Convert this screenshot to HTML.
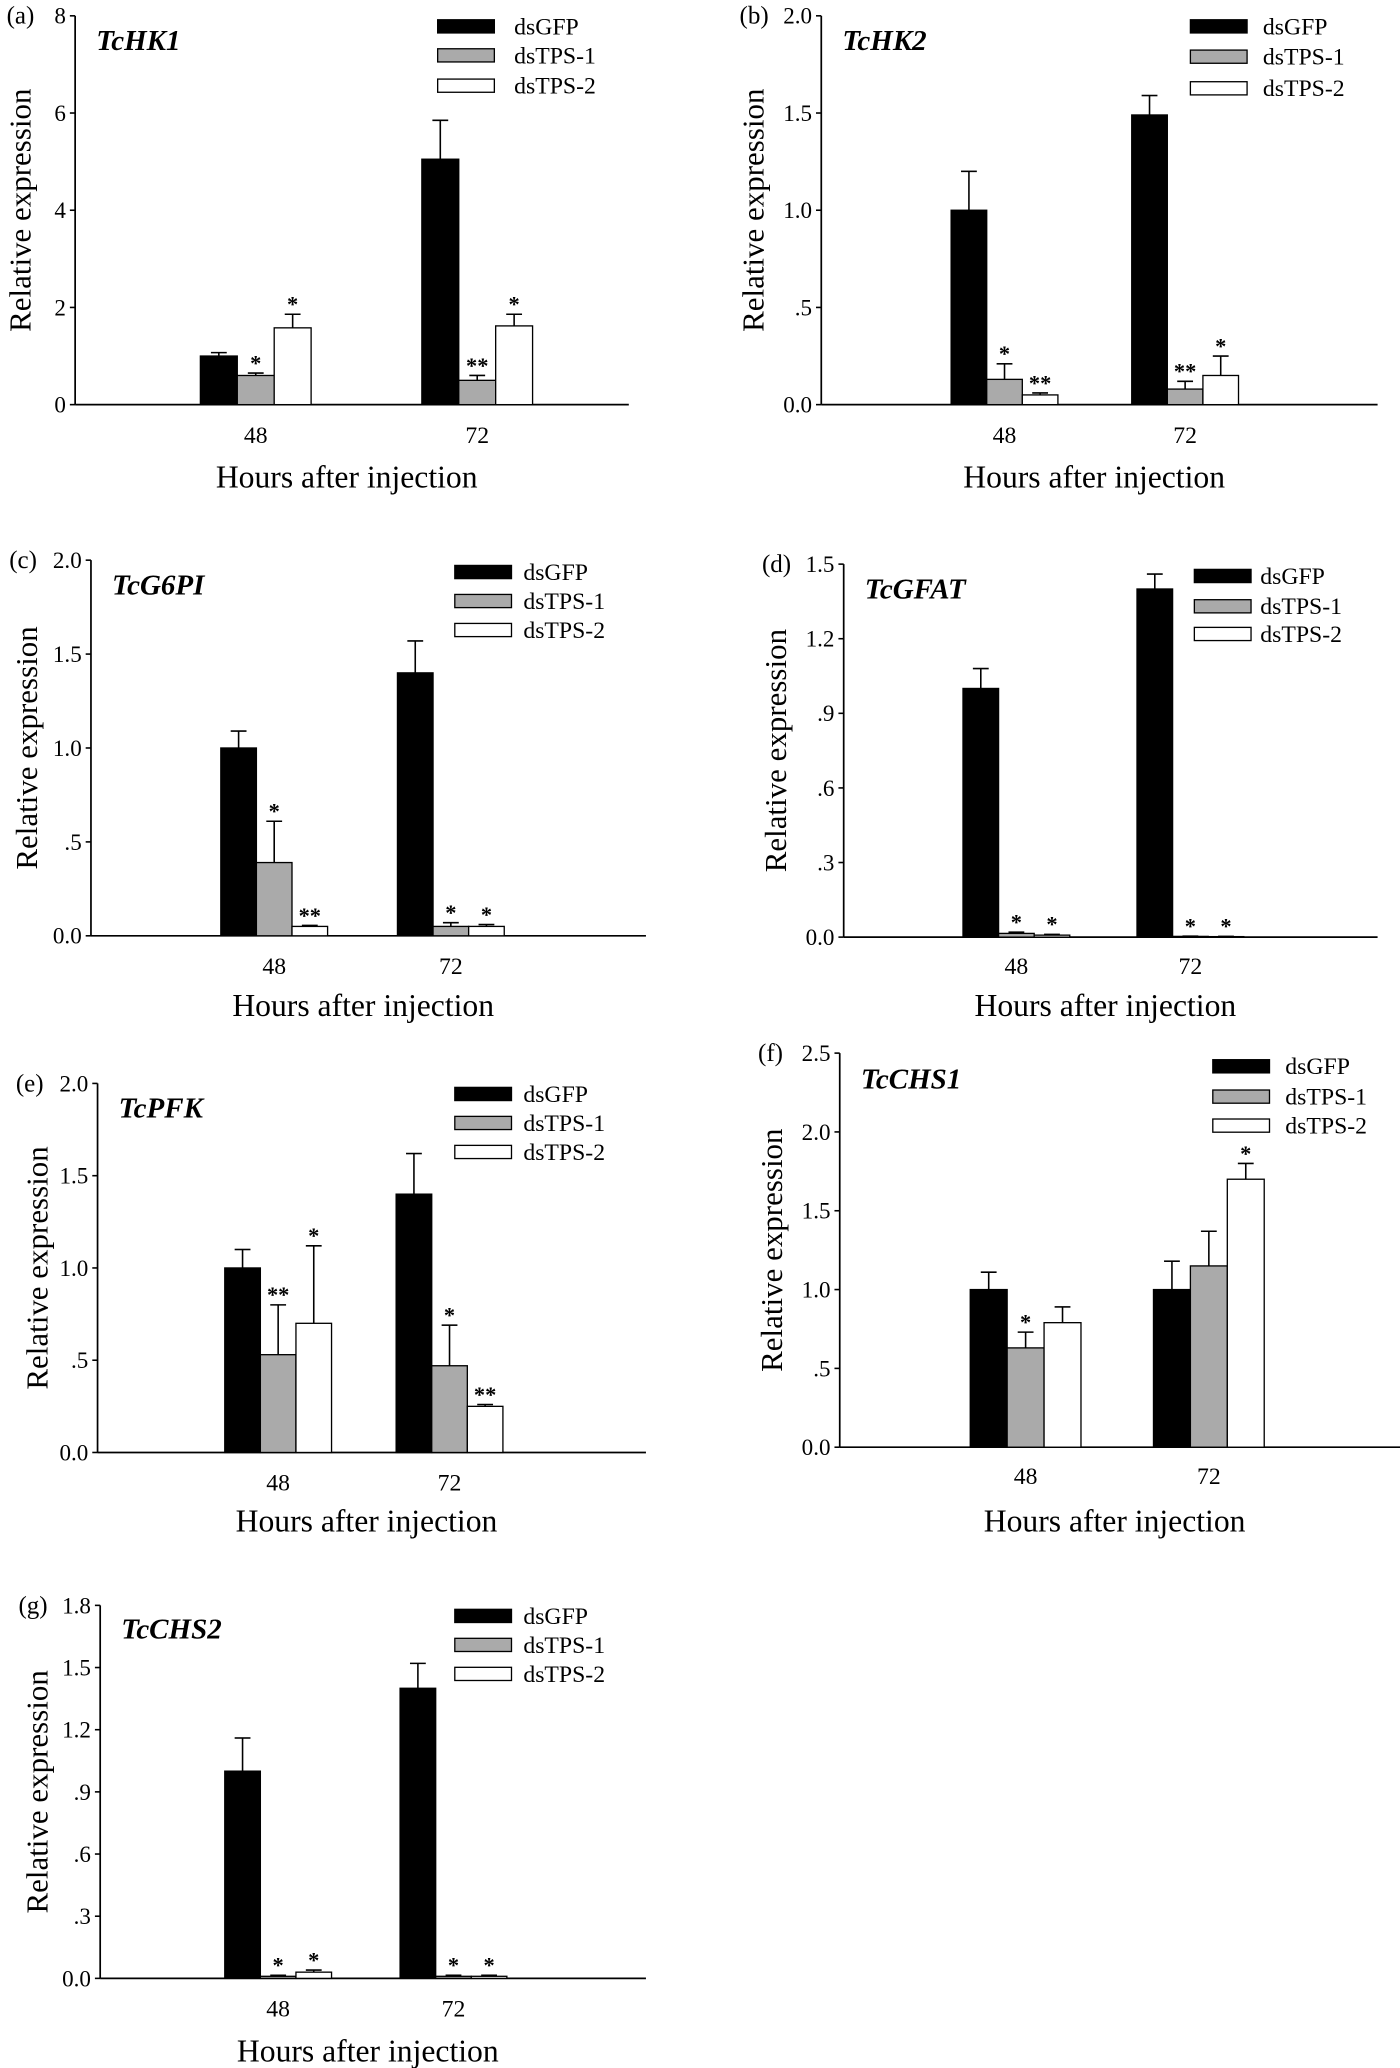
<!DOCTYPE html>
<html><head><meta charset="utf-8"><style>
html,body{margin:0;padding:0;background:#fff;}
svg{display:block;font-family:"Liberation Serif",serif;}
</style></head><body>
<svg id="fig" width="1400" height="2068" viewBox="0 0 1062 1569" preserveAspectRatio="none" xmlns="http://www.w3.org/2000/svg"></svg>
<script>
// ---- data ----
const groups = ["48", "72"];
const seriesNames = ["dsGFP", "dsTPS-1", "dsTPS-2"];
const seriesFills = ["#000", "#aaa", "#fff"];

const hk1_gfp = [1.0, 5.05], hk1_gfpErr = [0.07, 0.8];
const hk1_t1 = [0.6, 0.5], hk1_t1Err = [0.05, 0.1];
const hk1_t2 = [1.58, 1.62], hk1_t2Err = [0.28, 0.24];
const hk1_stars = [["", ""], ["*", "**"], ["*", "*"]];
const hk1_ticks = ["0", "2", "4", "6", "8"];

const hk2_gfp = [1.0, 1.49], hk2_gfpErr = [0.2, 0.1];
const hk2_t1 = [0.13, 0.08], hk2_t1Err = [0.08, 0.04];
const hk2_t2 = [0.05, 0.15], hk2_t2Err = [0.01, 0.1];
const hk2_stars = [["", ""], ["*", "**"], ["**", "*"]];
const hk2_ticks = ["0.0", ".5", "1.0", "1.5", "2.0"];

const g6pi_gfp = [1.0, 1.4], g6pi_gfpErr = [0.09, 0.17];
const g6pi_t1 = [0.39, 0.05], g6pi_t1Err = [0.22, 0.02];
const g6pi_t2 = [0.05, 0.05], g6pi_t2Err = [0.005, 0.01];
const g6pi_stars = [["", ""], ["*", "*"], ["**", "*"]];
const g6pi_ticks = ["0.0", ".5", "1.0", "1.5", "2.0"];

const gfat_gfp = [1.0, 1.4], gfat_gfpErr = [0.08, 0.06];
const gfat_t1 = [0.015, 0.003], gfat_t1Err = [0.005, 0.001];
const gfat_t2 = [0.008, 0.002], gfat_t2Err = [0.003, 0.001];
const gfat_stars = [["", ""], ["*", "*"], ["*", "*"]];
const gfat_ticks = ["0.0", ".3", ".6", ".9", "1.2", "1.5"];

const pfk_gfp = [1.0, 1.4], pfk_gfpErr = [0.1, 0.22];
const pfk_t1 = [0.53, 0.47], pfk_t1Err = [0.27, 0.22];
const pfk_t2 = [0.7, 0.25], pfk_t2Err = [0.42, 0.01];
const pfk_stars = [["", ""], ["**", "*"], ["*", "**"]];
const pfk_ticks = ["0.0", ".5", "1.0", "1.5", "2.0"];

const chs1_gfp = [1.0, 1.0], chs1_gfpErr = [0.11, 0.18];
const chs1_t1 = [0.63, 1.15], chs1_t1Err = [0.1, 0.22];
const chs1_t2 = [0.79, 1.7], chs1_t2Err = [0.1, 0.1];
const chs1_stars = [["", ""], ["*", ""], ["", "*"]];
const chs1_ticks = ["0.0", ".5", "1.0", "1.5", "2.0", "2.5"];

const chs2_gfp = [1.0, 1.4], chs2_gfpErr = [0.16, 0.12];
const chs2_t1 = [0.01, 0.01], chs2_t1Err = [0.005, 0.005];
const chs2_t2 = [0.03, 0.01], chs2_t2Err = [0.01, 0.005];
const chs2_stars = [["", ""], ["*", "*"], ["*", "*"]];
const chs2_ticks = ["0.0", ".3", ".6", ".9", "1.2", "1.5", "1.8"];

// ---- layout (not data) ----
const panels = [
 {id:"a",gene:"TcHK1",vals:[hk1_gfp,hk1_t1,hk1_t2],errs:[hk1_gfpErr,hk1_t1Err,hk1_t2Err],stars:hk1_stars,ticks:hk1_ticks,max:8,
  ax:57,x1:477,top:12,base:307,gx:[194,362],bw:28,lg:{x:332,tx:390,y:[20,42,65]},ylx:15,tickY:330,xlY:362,gy:30},
 {id:"b",gene:"TcHK2",vals:[hk2_gfp,hk2_t1,hk2_t2],errs:[hk2_gfpErr,hk2_t1Err,hk2_t2Err],stars:hk2_stars,ticks:hk2_ticks,max:2,
  ax:623,x1:1045,top:12,base:307,gx:[762,899],bw:27,lg:{x:903,tx:958,y:[20,43,67]},ylx:571,tickY:330,xlY:362,gy:30},
 {id:"c",gene:"TcG6PI",vals:[g6pi_gfp,g6pi_t1,g6pi_t2],errs:[g6pi_gfpErr,g6pi_t1Err,g6pi_t2Err],stars:g6pi_stars,ticks:g6pi_ticks,max:2,
  ax:69,x1:490,top:425,base:710,gx:[208,342],bw:27,lg:{x:345,tx:397,y:[434,456,478]},ylx:20,tickY:733,xlY:763,gy:443},
 {id:"d",gene:"TcGFAT",vals:[gfat_gfp,gfat_t1,gfat_t2],errs:[gfat_gfpErr,gfat_t1Err,gfat_t2Err],stars:gfat_stars,ticks:gfat_ticks,max:1.5,
  ax:640,x1:1045,top:428,base:711,gx:[771,903],bw:27,lg:{x:906,tx:956,y:[437,460,481]},ylx:588,tickY:733,xlY:763,gy:446},
 {id:"e",gene:"TcPFK",vals:[pfk_gfp,pfk_t1,pfk_t2],errs:[pfk_gfpErr,pfk_t1Err,pfk_t2Err],stars:pfk_stars,ticks:pfk_ticks,max:2,
  ax:74,x1:490,top:822,base:1102,gx:[211,341],bw:27,lg:{x:345,tx:397,y:[830,852,874]},ylx:28,tickY:1125,xlY:1154,gy:840},
 {id:"f",gene:"TcCHS1",vals:[chs1_gfp,chs1_t1,chs1_t2],errs:[chs1_gfpErr,chs1_t1Err,chs1_t2Err],stars:chs1_stars,ticks:chs1_ticks,max:2.5,
  ax:637,x1:1062,top:799,base:1098,gx:[778,917],bw:28,lg:{x:920,tx:975,y:[809,832,854]},ylx:585,tickY:1120,xlY:1154,gy:818},
 {id:"g",gene:"TcCHS2",vals:[chs2_gfp,chs2_t1,chs2_t2],errs:[chs2_gfpErr,chs2_t1Err,chs2_t2Err],stars:chs2_stars,ticks:chs2_ticks,max:1.8,
  ax:76,x1:490,top:1218,base:1501,gx:[211,344],bw:27,lg:{x:345,tx:397,y:[1226,1248,1270]},ylx:28,tickY:1524,xlY:1556,gy:1235}
];

const svg = document.getElementById("fig");
const NS = "http://www.w3.org/2000/svg";
function mk(tag, attrs, parent, text){
  const e = document.createElementNS(NS, tag);
  for (const k in attrs) e.setAttribute(k, attrs[k]);
  if (text !== undefined) e.textContent = text;
  parent.appendChild(e);
  return e;
}

panels.forEach(p => {
  const g = mk("g", {}, svg);
  
  
  const y = v => p.base - (v / p.max) * (p.base - p.top);
  const ya = mk("line", {x1:p.ax,y1:p.top,x2:p.ax,y2:p.base,stroke:"#000","stroke-width":1.3}, g);
  
  
  const xa = mk("line", {x1:p.ax,y1:p.base,x2:p.x1,y2:p.base,stroke:"#000","stroke-width":1.3}, g);
  
  
  const n = p.ticks.length - 1;
  p.ticks.forEach((t, i) => {
    const v = p.max * i / n, yy = y(v);
    mk("line", {x1:p.ax-4,y1:yy,x2:p.ax,y2:yy,stroke:"#000","stroke-width":1.2}, g);
    const tl = mk("text", {x:p.ax-7,y:yy+6,"font-size":17.5,"text-anchor":"end"}, g, t);
    
    
  });
  const pl = mk("text", {x:4,y:p.top+6,"font-size":19}, g, "(" + p.id + ")");
  pl.setAttribute("x", p.ax - (p.ticks[n].length > 1 ? 62 : 52));
  
  
  const gn = mk("text", {x:p.ax+16,y:p.gy+8,"font-size":22,"font-weight":"bold","font-style":"italic"}, g, p.gene);
  
  
  const cy = (p.top + p.base) / 2;
  const yl = mk("text", {x:p.ylx,y:cy,"font-size":23.5,"text-anchor":"middle",transform:`rotate(-90 ${p.ylx} ${cy})`,dy:"0.35em"}, g, "Relative expression");
  
  
  groups.forEach((lab, gi) => {
    const t = mk("text", {x:p.gx[gi],y:p.tickY+6,"font-size":18,"text-anchor":"middle"}, g, lab);
    
    
  });
  const xl = mk("text", {x:(p.ax+p.x1)/2-4,y:p.xlY+8,"font-size":24,"text-anchor":"middle"}, g, "Hours after injection");
  
  
  groups.forEach((lab, gi) => {
    seriesNames.forEach((s, si) => {
      const v = p.vals[si][gi], e = p.errs[si][gi];
      const bx = p.gx[gi] - 1.5 * p.bw + si * p.bw;
      const cx = bx + p.bw / 2;
      const ytop = y(v), yerr = y(v + e);
      mk("line", {x1:cx,y1:ytop,x2:cx,y2:yerr,stroke:"#000","stroke-width":1.2}, g);
      mk("line", {x1:cx-6,y1:yerr,x2:cx+6,y2:yerr,stroke:"#000","stroke-width":1.2}, g);
      const r = mk("rect", {x:bx,y:ytop,width:p.bw,height:Math.max(p.base-ytop,0.5),fill:seriesFills[si],stroke:"#000","stroke-width":1}, g);
      
      
      const st = p.stars[si][gi];
      if (st) {
        const t = mk("text", {x:cx,y:yerr-2,"font-size":17,"font-weight":"bold","text-anchor":"middle"}, g, st);
        
        
      }
    });
  });
  seriesNames.forEach((s, si) => {
    const ly = p.lg.y[si];
    const sw = mk("rect", {x:p.lg.x,y:ly-5,width:43,height:10,fill:seriesFills[si],stroke:"#000","stroke-width":1}, g);
    
    
    const lt = mk("text", {x:p.lg.tx,y:ly+6,"font-size":18}, g, s);
    
    
  });
});
</script>
</body></html>
